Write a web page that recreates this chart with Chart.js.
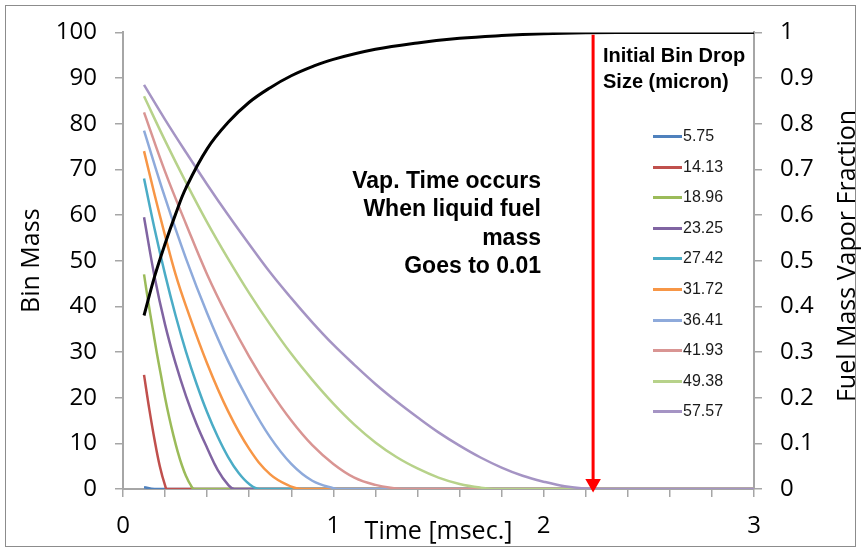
<!DOCTYPE html>
<html>
<head>
<meta charset="utf-8">
<script src="https://cdn.jsdelivr.net/npm/chart.js@4.4.1/dist/chart.umd.min.js"></script>
<style>
html,body{margin:0;padding:0;background:#fff;}
#wrap{position:relative;width:862px;height:552px;overflow:hidden;}
#c{position:absolute;left:0;top:0;}
#frame{position:absolute;left:5px;top:5px;width:851px;height:542px;border:1px solid #8c8c8c;box-sizing:border-box;pointer-events:none;}
.ov{position:absolute;white-space:nowrap;color:#000;}
#legTitle{left:603px;top:42px;font:bold 20px/26px "Liberation Sans",Arial,sans-serif;}
#annot{left:280px;top:166px;width:261px;text-align:right;font:bold 23px/28.3px "Liberation Sans",Arial,sans-serif;}
#rTitle{left:845px;top:256px;font:25px "Open Sans",sans-serif;transform:translate(-50%,-50%) rotate(-90deg);}
.legItem{position:absolute;left:653px;height:20px;font:16px "Liberation Sans",Arial,sans-serif;color:#1a1a1a;}
.legItem span.sw{position:absolute;left:0;top:9px;width:29px;height:3px;}
.legItem span.tx{position:absolute;left:30px;top:1px;}
</style>
</head>
<body>
<div id="wrap">
<canvas id="c" width="862" height="552"></canvas>
<div id="frame"></div>
<div class="ov" id="legTitle">Initial Bin Drop<br>Size (micron)</div>
<div class="ov" id="annot">Vap. Time occurs<br>When liquid fuel<br>mass<br>Goes to 0.01</div>
<div class="ov" id="rTitle">Fuel Mass Vapor Fraction</div>
</div>
<script>
// ---- data ----
const seriesLabels = ['5.75','14.13','18.96','23.25','27.42','31.72','36.41','41.93','49.38','57.57'];
const seriesColors = ['#4F81BD','#C0504D','#9BBB59','#8064A2','#4BACC6','#F79646','#8EAADB','#D99593','#B7D28A','#A594C4'];

const t_575  = [0.1, 0.15, 3.0];
const m_575  = [0.4, 0, 0];
const t_1413 = [0.1, 0.125, 0.15, 0.175, 0.2, 0.21, 3.0];
const m_1413 = [25, 17.5, 10.8, 5, 0.8, 0, 0];
const t_1896 = [0.1, 0.12, 0.14, 0.16, 0.18, 0.2, 0.22, 0.24, 0.26, 0.28, 0.3, 0.32, 0.34, 3.0];
const m_1896 = [47, 41, 35.5, 30, 25, 20, 15.6, 11.7, 8.2, 5.2, 2.8, 1, 0, 0];
const t_2325 = [0.1, 0.15, 0.2, 0.25, 0.3, 0.35, 0.4, 0.45, 0.5, 0.53, 3.0];
const m_2325 = [59.5, 46.5, 36, 27.5, 20.3, 14.2, 9, 4.2, 0.9, 0, 0];
const t_2742 = [0.1, 0.15, 0.2, 0.25, 0.3, 0.35, 0.4, 0.45, 0.5, 0.55, 0.6, 0.65, 3.0];
const m_2742 = [68, 57, 47, 38, 30, 23, 16.8, 11.5, 7, 3.5, 1.1, 0, 0];
const t_3172 = [0.1, 0.15, 0.2, 0.25, 0.3, 0.4, 0.5, 0.6, 0.7, 0.8, 0.85, 3.0];
const m_3172 = [74, 64.5, 55.5, 47, 40, 27.5, 17, 8.8, 3.2, 0.5, 0, 0];
const t_3641 = [0.1, 0.2, 0.3, 0.4, 0.5, 0.6, 0.7, 0.8, 0.9, 1.0, 1.04, 3.0];
const m_3641 = [78.5, 63.8, 50.4, 38.5, 28, 19, 11.3, 5.5, 1.8, 0.2, 0, 0];
const t_4193 = [0.1, 0.2, 0.3, 0.4, 0.5, 0.6, 0.7, 0.8, 0.9, 1.0, 1.1, 1.2, 1.3, 1.33, 3.0];
const m_4193 = [82.5, 69.5, 58, 47, 37.5, 29, 21.5, 15, 9.6, 5.5, 2.5, 0.9, 0.1, 0, 0];
const t_4938 = [0.1, 0.2, 0.3, 0.4, 0.5, 0.6, 0.7, 0.8, 0.9, 1.0, 1.1, 1.2, 1.3, 1.4, 1.5, 1.6, 1.7, 1.78, 3.0];
const m_4938 = [86, 76.3, 67.1, 58.4, 50.4, 42.9, 36, 29.6, 23.9, 18.7, 14.1, 10.2, 7, 4.5, 2.5, 1.1, 0.3, 0, 0];
const t_5757 = [0.1, 0.2, 0.3, 0.4, 0.5, 0.6, 0.7, 0.8, 0.9, 1.0, 1.1, 1.2, 1.3, 1.4, 1.5, 1.6, 1.7, 1.8, 1.9, 2.0, 2.1, 2.2, 2.25, 3.0];
const m_5757 = [88.5, 80.9, 73.7, 66.7, 60, 53.6, 47.4, 41.8, 36.5, 31.6, 27.2, 23, 19.2, 15.7, 12.4, 9.5, 6.9, 4.7, 2.9, 1.6, 0.6, 0.1, 0, 0];

const seriesTimes = [t_575, t_1413, t_1896, t_2325, t_2742, t_3172, t_3641, t_4193, t_4938, t_5757];
const seriesMass  = [m_575, m_1413, m_1896, m_2325, m_2742, m_3172, m_3641, m_4193, m_4938, m_5757];

const timeVapor = [0.1, 0.15, 0.2, 0.25, 0.3, 0.4, 0.5, 0.6, 0.7, 0.8, 0.9, 1.0, 1.2, 1.4, 1.6, 1.8, 2.0, 2.2, 2.5, 3.0];
const vaporFraction = [0.38, 0.465, 0.537, 0.602, 0.66, 0.745, 0.803, 0.847, 0.879, 0.905, 0.925, 0.941, 0.963, 0.977, 0.987, 0.993, 0.997, 0.999, 1.0, 1.0];

const arrowTime = 2.235;
const arrowTop = 99.5;
const arrowTip = 1.2;

const xTickLabels = ['0','1','2','3'];

// ---- legend (html) ----
const wrap = document.getElementById('wrap');
seriesLabels.forEach((lab, i) => {
  const d = document.createElement('div');
  d.className = 'legItem';
  d.style.top = (126 + 30.6 * i) + 'px';
  d.innerHTML = '<span class="sw" style="background:' + seriesColors[i] + '"></span><span class="tx">' + lab + '</span>';
  wrap.appendChild(d);
});

// ---- chart ----
const datasets = seriesLabels.map((lab, i) => ({
  label: lab,
  data: seriesTimes[i].map((t, j) => ({x: t, y: seriesMass[i][j]})),
  borderColor: seriesColors[i],
  backgroundColor: seriesColors[i],
  borderWidth: 2.5,
  pointRadius: 0,
  tension: 0.4,
  yAxisID: 'y',
  order: 20 - i
}));
datasets.push({
  label: 'Vapor fraction',
  data: timeVapor.map((t, j) => ({x: t, y: vaporFraction[j]})),
  borderColor: '#000',
  borderWidth: 3,
  pointRadius: 0,
  tension: 0.4,
  yAxisID: 'y2',
  order: 1
});
datasets.push({
  label: 'Vap. time',
  data: [{x: arrowTime, y: arrowTop}, {x: arrowTime, y: arrowTip}],
  borderColor: '#FF0000',
  backgroundColor: '#FF0000',
  borderWidth: 3,
  pointRadius: [0, 6],
  pointStyle: 'triangle',
  pointRotation: 180,
  yAxisID: 'y',
  clip: false,
  order: 0
});

const tickFont = {family: '"Open Sans", sans-serif', size: 24};
const titleFont = {family: '"Open Sans", sans-serif', size: 25};
const axisGray = '#a6a6a6';

new Chart(document.getElementById('c'), {
  type: 'line',
  data: {datasets},
  options: {
    responsive: false,
    animation: false,
    events: [],
    layout: {padding: {top: 32, left: 0, right: 0, bottom: 0}},
    plugins: {legend: {display: false}, tooltip: {enabled: false}},
    scales: {
      x: {
        type: 'linear', min: 0, max: 3,
        afterFit: s => { s.height = 63; },
        ticks: {
          stepSize: 0.2, autoSkip: false, maxRotation: 0, padding: 15,
          color: '#000', font: tickFont,
          callback: v => (Math.abs(v - Math.round(v)) < 1e-6 ? xTickLabels[Math.round(v)] : '')
        },
        grid: {drawOnChartArea: false, drawTicks: true, tickLength: 8, color: axisGray, lineWidth: 1.5},
        border: {color: axisGray, width: 2},
        title: {display: true, text: 'Time [msec.]', color: '#000', font: titleFont, padding: {top: 0, bottom: 5}}
      },
      y: {
        position: 'left', min: 0, max: 100,
        afterFit: s => { s.width = 123; },
        ticks: {stepSize: 10, padding: 18, color: '#000', font: tickFont},
        grid: {drawOnChartArea: false, drawTicks: true, tickLength: 8, color: axisGray, lineWidth: 1.5},
        border: {color: axisGray, width: 2},
        title: {display: true, text: 'Bin Mass', color: '#000', font: titleFont, padding: {top: 17, bottom: 0}}
      },
      y2: {
        position: 'right', min: 0, max: 1,
        afterFit: s => { s.width = 108; },
        ticks: {
          stepSize: 0.1, padding: 18, color: '#000', font: tickFont,
          callback: v => { const r = Math.round(v * 10) / 10; return (r === 0 || r === 1) ? String(r) : r.toFixed(1); }
        },
        grid: {drawOnChartArea: false, drawTicks: true, tickLength: 8, color: axisGray, lineWidth: 1.5},
        border: {color: axisGray, width: 2}
      }
    }
  }
});
</script>
</body>
</html>
